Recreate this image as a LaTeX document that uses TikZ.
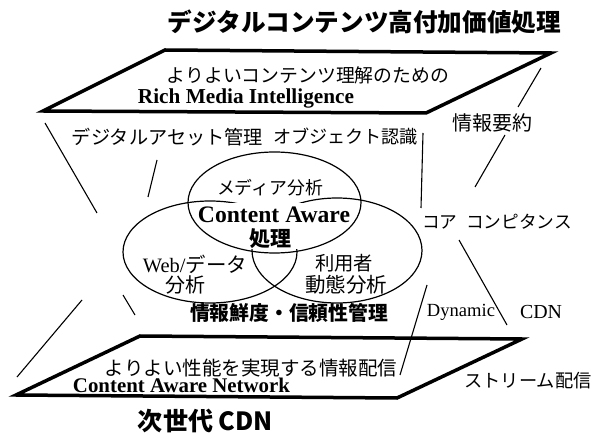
\documentclass[tikz,border=0pt]{standalone}
\usepackage{fontspec}
\setmainfont{Liberation Serif}
\newfontfamily\jp{Noto Sans CJK JP}
\usetikzlibrary{shapes.geometric}
\newcommand\fitto[2]{\resizebox{#1pt}{!}{#2}}
\begin{document}
\begin{tikzpicture}[x=1pt,y=-1pt,
  txt/.style={inner sep=0pt, outer sep=0pt},
  thinline/.style={line width=1.1pt},
  plane/.style={line width=3.5pt, line join=miter, miter limit=20},
  ell/.style={ellipse, draw, line width=1.2pt, inner sep=0pt}]
\useasboundingbox (0,0) rectangle (594,435);

% planes
\coordinate (t1) at (165,50);
\coordinate (t2) at (551,53);
\coordinate (t3) at (426,113);
\coordinate (t4) at (43,111);
\draw[plane] (t1) -- (t2) -- (t3) -- (t4) -- cycle;
\coordinate (b1) at (140,336);
\coordinate (b2) at (522,339);
\coordinate (b3) at (397,398);
\coordinate (b4) at (16,395);
\draw[plane] (b1) -- (b2) -- (b3) -- (b4) -- cycle;

% ellipses
\node[ell, minimum width=174pt, minimum height=102pt] (eleft) at (210,252) {};
\node[ell, minimum width=170pt, minimum height=105pt] (eright) at (337,250.5) {};
\fill[white] (197,203.5) rectangle (352,249);
\node[ell, minimum width=173pt, minimum height=101pt] (etop) at (274.5,202.5) {};

% thin lines
\coordinate (l1a) at (45,123);  \coordinate (l1b) at (97,213);
\coordinate (l2a) at (157,160); \coordinate (l2b) at (148,197);
\coordinate (l3a) at (423,133); \coordinate (l3b) at (421,208);
\coordinate (l4a) at (541,68);  \coordinate (l4b) at (518,107);
\coordinate (l5a) at (505,135); \coordinate (l5b) at (475,187);
\coordinate (l6a) at (459,240); \coordinate (l6b) at (507,325);
\coordinate (l7a) at (427,285); \coordinate (l7b) at (400,375);
\coordinate (l8a) at (82,300);  \coordinate (l8b) at (17,377);
\coordinate (l9a) at (123,295); \coordinate (l9b) at (135,315);
\foreach \n in {1,...,9} \draw[thinline] (l\n a) -- (l\n b);

% texts
\node[txt] (title) at (364.5,22) {\fitto{393}{\jp\bfseries デジタルコンテンツ高付加価値処理}};
\node[txt] (top1) at (308,75) {\fitto{282}{\jp よりよいコンテンツ理解のための}};
\node[txt] (top2) at (246,98) {\fitto{216}{\bfseries Rich Media Intelligence}};
\node[txt] (dam) at (167.5,137) {\fitto{191}{\jp デジタルアセット管理}};
\node[txt] (obj) at (345.5,137) {\fitto{145}{\jp オブジェクト認識}};
\node[txt] (summ) at (492,123) {\fitto{80}{\jp 情報要約}};
\node[txt] (media) at (270,188) {\fitto{106}{\jp メディア分析}};
\node[txt] (ca) at (274,215) {\fitto{152}{\bfseries Content Aware}};
\node[txt] (proc) at (270,239) {\fitto{42}{\jp\bfseries 処理}};
\node[txt] (web) at (195,264) {\fitto{104}{Web/{\jp データ}}};
\node[txt] (web2) at (185,285) {\fitto{40}{\jp 分析}};
\node[txt] (user) at (344,263) {\fitto{58}{\jp 利用者}};
\node[txt] (user2) at (346,285) {\fitto{82}{\jp 動態分析}};
\node[txt] (core) at (497,222) {\fitto{150}{\jp コア\hspace{0.5em}コンピタンス}};
\node[txt] (fresh) at (289,313) {\fitto{198}{\jp\bfseries 情報鮮度・信頼性管理}};
\node[txt] (dyn) at (461,312) {\fitto{68}{Dynamic}};
\node[txt] (cdn) at (541,312) {\fitto{42}{CDN}};
\node[txt] (bot1) at (251,368) {\fitto{292}{\jp よりよい性能を実現する情報配信}};
\node[txt] (bot2) at (181.5,385) {\fitto{217}{\bfseries Content Aware Network}};
\node[txt] (stream) at (528,381) {\fitto{127}{\jp ストリーム配信}};
\node[txt] (next) at (205.5,421) {\fitto{135}{\jp\bfseries 次世代 CDN}};
\end{tikzpicture}
\end{document}
